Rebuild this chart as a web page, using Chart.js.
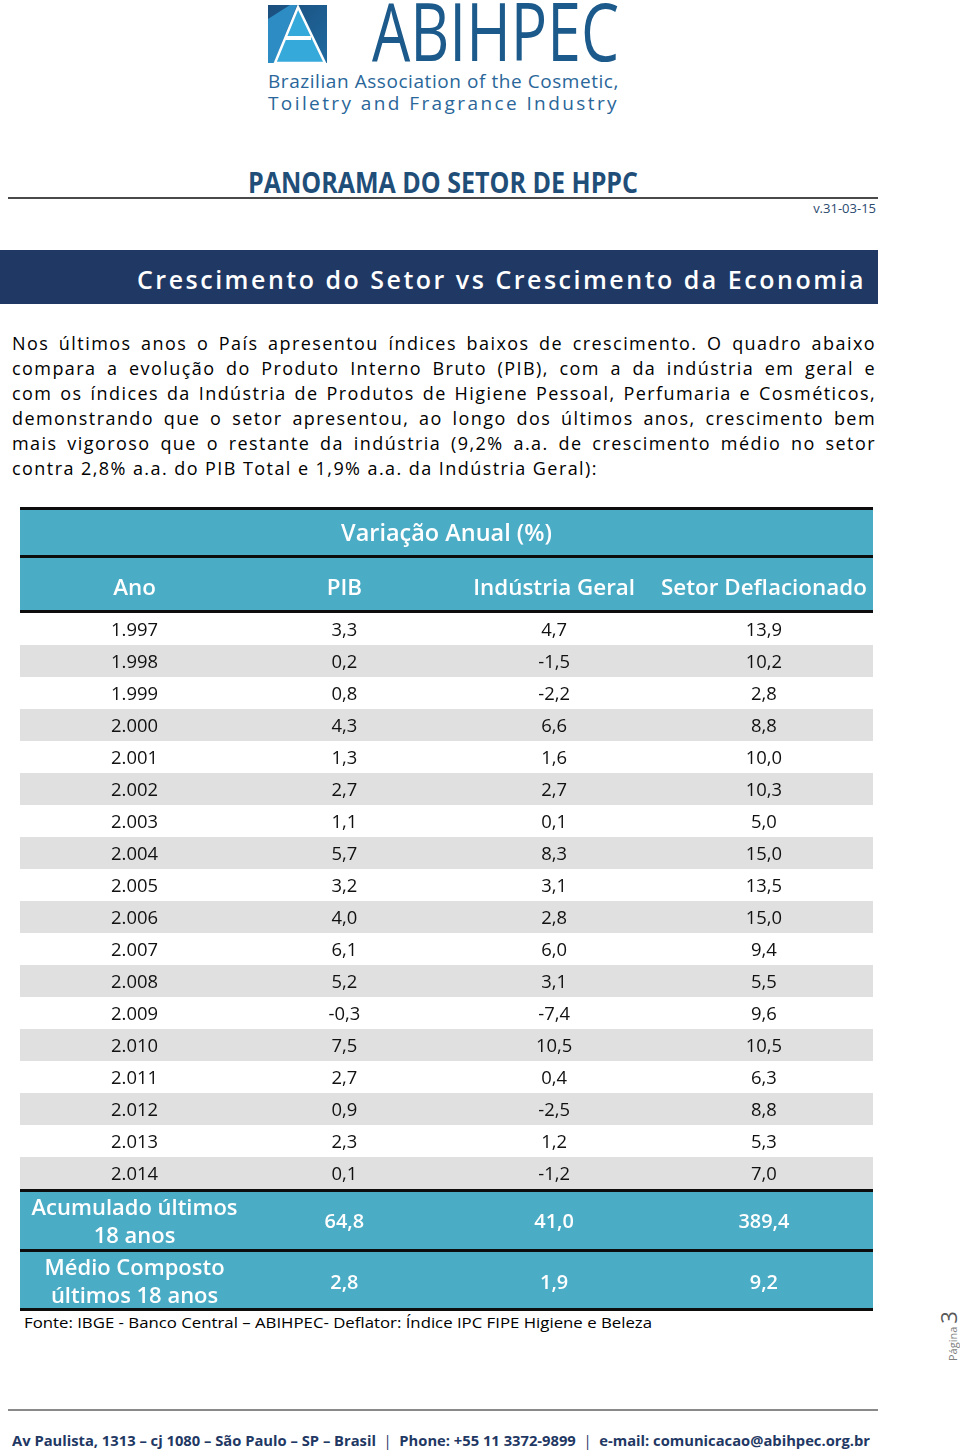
<!DOCTYPE html>
<html lang="pt-BR">
<head>
<meta charset="utf-8">
<title>Crescimento do Setor vs Crescimento da Economia</title>
<script src="https://cdn.jsdelivr.net/npm/chart.js@4.4.1/dist/chart.umd.min.js"></script>
<style>
  html,body{margin:0;padding:0;background:#fff;}
  body{width:960px;height:1450px;position:relative;overflow:hidden;font-family:"Open Sans",sans-serif;color:#000;}
  .abs{position:absolute;white-space:nowrap;}
  .fit{display:inline-block;transform-origin:left center;}
  .para div{height:25px;line-height:25px;font-size:18px;text-align:justify;text-align-last:justify;width:864px;white-space:nowrap;}
  .para div.last{text-align-last:left;}
</style>
</head>
<body>
<!-- logo -->
<svg class="abs" style="left:268px;top:5px" width="59" height="58" viewBox="0 0 59 58">
  <defs>
    <linearGradient id="gd" x1="0" y1="0" x2="1" y2="1">
      <stop offset="0" stop-color="#1b4e7d"/><stop offset="1" stop-color="#1f6aa0"/>
    </linearGradient>
  </defs>
  <rect x="0" y="0" width="59" height="58" fill="url(#gd)"/>
  <polygon points="0,58 0,14 22,0 29,0 6,58" fill="#2d8cc4"/>
  <polygon points="7,58 30,2 57,58" fill="#36a9db" stroke="#fff" stroke-width="2.5"/>
  <rect x="17" y="31" width="26" height="4" fill="#fff"/>
</svg>
<div class="abs" style="left:372px;top:-10px;line-height:80px;font-size:80px;font-weight:400;color:#1b5a8b;letter-spacing:0"><span class="fit" data-fit="247" data-mode="sx">ABIHPEC</span></div>
<div class="abs" style="left:268px;top:69px;line-height:24px;font-size:19px;color:#2a6699"><span class="fit" data-fit="351" data-mode="ls">Brazilian Association of the Cosmetic,</span></div>
<div class="abs" style="left:268px;top:91px;line-height:24px;font-size:19px;color:#2a6699"><span class="fit" data-fit="351" data-mode="ls">Toiletry and Fragrance Industry</span></div>

<!-- header -->
<div class="abs" style="left:248px;top:166px;line-height:32px;font-size:28px;font-weight:700;color:#1f4e79"><span class="fit" data-fit="390" data-mode="sx">PANORAMA DO SETOR DE HPPC</span></div>
<div class="abs" style="left:8px;top:197px;width:870px;height:2px;background:#4a4a4a"></div>
<div class="abs" style="right:84px;top:200px;line-height:16px;font-size:13px;color:#2b4a6f">v.31-03-15</div>

<!-- banner -->
<div class="abs" style="left:0;top:250px;width:878px;height:54px;background:#1f3864"></div>
<div class="abs" style="left:137px;top:263px;line-height:32px;font-size:25px;font-weight:600;color:#fff"><span class="fit" data-fit="729" data-mode="ls">Crescimento do Setor vs Crescimento da Economia</span></div>

<!-- paragraph -->
<div class="abs para" id="para" style="left:12px;top:331px">
  <div>Nos últimos anos o País apresentou índices baixos de crescimento. O quadro abaixo</div>
  <div>compara a evolução do Produto Interno Bruto (PIB), com a da indústria em geral e</div>
  <div>com os índices da Indústria de Produtos de Higiene Pessoal, Perfumaria e Cosméticos,</div>
  <div>demonstrando que o setor apresentou, ao longo dos últimos anos, crescimento bem</div>
  <div>mais vigoroso que o restante da indústria (9,2% a.a. de crescimento médio no setor</div>
  <div class="last"><span id="lastline">contra 2,8% a.a. do PIB Total e 1,9% a.a. da Indústria Geral):</span></div>
</div>

<!-- table chart -->
<canvas id="tbl" width="853" height="804" style="position:absolute;left:20px;top:507px;width:853px;height:804px"></canvas>

<div class="abs" style="left:24px;top:1312px;line-height:20px;font-size:15px"><span class="fit" data-fit="628" data-mode="sx">Fonte: IBGE - Banco Central – ABIHPEC- Deflator: Índice IPC FIPE Higiene e Beleza</span></div>

<!-- page number -->
<div class="abs" style="left:935px;top:1361px;line-height:26px;transform:rotate(-90deg);transform-origin:0 0;color:#7f7f7f"><span style="font-size:11px">Página </span><span style="font-size:22px;color:#595959">3</span></div>

<!-- footer -->
<div class="abs" style="left:8px;top:1409px;width:870px;height:2px;background:#8a8a8a"></div>
<div class="abs" style="left:12px;top:1430px;line-height:20px;font-size:15px;font-weight:700;color:#1f3864"><span class="fit" data-fit="858" data-mode="sx">Av Paulista, 1313 – cj 1080 – São Paulo – SP – Brasil <span style="font-weight:400">&nbsp;|&nbsp;</span> Phone: +55 11 3372-9899 <span style="font-weight:400">&nbsp;|&nbsp;</span> e-mail: comunicacao@abihpec.org.br</span></div>

<script>
// ---------- data ----------
const groupTitle = 'Variação Anual (%)';
const columnLabels = ['Ano', 'PIB', 'Indústria Geral', 'Setor Deflacionado'];
const years = ['1.997','1.998','1.999','2.000','2.001','2.002','2.003','2.004','2.005',
               '2.006','2.007','2.008','2.009','2.010','2.011','2.012','2.013','2.014'];
const pib       = [3.3, 0.2, 0.8, 4.3, 1.3, 2.7, 1.1, 5.7, 3.2, 4.0, 6.1, 5.2, -0.3, 7.5, 2.7, 0.9, 2.3, 0.1];
const industria = [4.7, -1.5, -2.2, 6.6, 1.6, 2.7, 0.1, 8.3, 3.1, 2.8, 6.0, 3.1, -7.4, 10.5, 0.4, -2.5, 1.2, -1.2];
const setor     = [13.9, 10.2, 2.8, 8.8, 10.0, 10.3, 5.0, 15.0, 13.5, 15.0, 9.4, 5.5, 9.6, 10.5, 6.3, 8.8, 5.3, 7.0];
const summaryLabels = [['Acumulado últimos', '18 anos'], ['Médio Composto', 'últimos 18 anos']];
const acumulado = [64.8, 41.0, 389.4];
const medio     = [2.8, 1.9, 9.2];

// ---------- helpers ----------
const fmt = v => v.toFixed(1).replace('.', ',');
const TEAL = '#4bacc6', GREY = '#e0e0e0', BLACK = '#0d0d0d';
const FONT = '"Open Sans", sans-serif';
const DY = 2; // baseline nudge for canvas text

function fitSize(ctx, weight, text, target) {
  ctx.font = `${weight} 100px ${FONT}`;
  return 100 * target / ctx.measureText(text).width;
}

const seriesList = [
  { label: columnLabels[1], values: pib },
  { label: columnLabels[2], values: industria },
  { label: columnLabels[3], values: setor }
];
const summaryRows = [acumulado, medio];

const tablePlugin = {
  id: 'tablePlugin',
  beforeDatasetsDraw(chart) {
    const { ctx, chartArea: a, scales: { x, y } } = chart;
    const W = chart.width;
    ctx.save();
    const top = a.top;
    ctx.fillStyle = BLACK; ctx.fillRect(0, 0, W, 3);
    ctx.fillStyle = TEAL;  ctx.fillRect(0, 3, W, 45);
    ctx.fillStyle = BLACK; ctx.fillRect(0, 48, W, 3);
    ctx.fillStyle = TEAL;  ctx.fillRect(0, 51, W, top - 54);
    ctx.fillStyle = BLACK; ctx.fillRect(0, top - 3, W, 3);
    const rowH = Math.abs(y.getPixelForValue(1) - y.getPixelForValue(0));
    years.forEach((lab, i) => {
      if (i % 2 === 1) {
        const cy = y.getPixelForValue(i);
        ctx.fillStyle = GREY;
        ctx.fillRect(a.left, cy - rowH / 2, a.right - a.left, rowH);
      }
    });
    const b = a.bottom;
    ctx.fillStyle = BLACK; ctx.fillRect(0, b, W, 3);
    ctx.fillStyle = TEAL;  ctx.fillRect(0, b + 3, W, 57);
    ctx.fillStyle = BLACK; ctx.fillRect(0, b + 60, W, 3);
    ctx.fillStyle = TEAL;  ctx.fillRect(0, b + 63, W, 56);
    ctx.fillStyle = BLACK; ctx.fillRect(0, b + 119, W, 3);

    ctx.textAlign = 'center'; ctx.textBaseline = 'middle'; ctx.fillStyle = '#fff';
    const tSize = fitSize(ctx, 600, groupTitle, 211);
    ctx.font = `600 ${tSize}px ${FONT}`;
    ctx.fillText(groupTitle, (a.left + a.right) / 2, 25 + DY);
    const hSize = fitSize(ctx, 600, columnLabels[3], 206);
    ctx.font = `600 ${hSize}px ${FONT}`;
    columnLabels.forEach((lab, j) => ctx.fillText(lab, x.getPixelForValue(j), 80 + DY));

    const lSize = fitSize(ctx, 600, summaryLabels[0][0], 206);
    const vSize = fitSize(ctx, 600, fmt(acumulado[2]), 51);
    const rowCenters = [b + 31.5, b + 92];
    summaryRows.forEach((vals, r) => {
      const cy = rowCenters[r] + DY;
      ctx.font = `600 ${lSize}px ${FONT}`;
      ctx.fillText(summaryLabels[r][0], x.getPixelForValue(0), cy - 14);
      ctx.fillText(summaryLabels[r][1], x.getPixelForValue(0), cy + 14);
      ctx.font = `600 ${vSize}px ${FONT}`;
      vals.forEach((v, j) => ctx.fillText(fmt(v), x.getPixelForValue(j + 1), cy));
    });
    ctx.restore();
  },
  afterDatasetsDraw(chart) {
    const { ctx, scales: { x, y } } = chart;
    ctx.save();
    ctx.textAlign = 'center'; ctx.textBaseline = 'middle'; ctx.fillStyle = '#111';
    const dSize = fitSize(ctx, 400, years[0], 47);
    ctx.font = `400 ${dSize}px ${FONT}`;
    years.forEach((lab, i) => ctx.fillText(lab, x.getPixelForValue(0), y.getPixelForValue(i) + DY));
    chart.data.datasets.forEach((ds, d) => {
      const meta = chart.getDatasetMeta(d);
      meta.data.forEach((pt, i) => ctx.fillText(fmt(seriesList[d].values[i]), pt.x, pt.y + DY));
    });
    ctx.restore();
  }
};

new Chart(document.getElementById('tbl'), {
  type: 'scatter',
  data: {
    datasets: seriesList.map(s => ({
      label: s.label,
      data: s.values.map((v, i) => ({ x: columnLabels.indexOf(s.label), y: years[i], v })),
      pointRadius: 0,
      pointHoverRadius: 0
    }))
  },
  options: {
    responsive: false,
    animation: false,
    events: [],
    layout: { padding: { top: 106, bottom: 122, left: 0, right: 0 } },
    plugins: { legend: { display: false }, tooltip: { enabled: false }, title: { display: false } },
    scales: {
      x: { type: 'linear', min: -0.546, max: 3.52, display: false },
      y: { type: 'category', labels: years, offset: true, display: false }
    }
  },
  plugins: [tablePlugin]
});

// ---------- fit decorative text widths ----------
document.fonts.ready.then(() => {
  document.querySelectorAll('.fit').forEach(el => {
    const target = +el.dataset.fit;
    const w = el.getBoundingClientRect().width;
    if (el.dataset.mode === 'ls') {
      const n = el.textContent.length;
      el.style.letterSpacing = ((target - w) / n) + 'px';
    } else {
      el.style.transform = `scaleX(${target / w})`;
    }
  });
  // paragraph: widen letters so the last (unjustified) line ends where the reference does
  const last = document.getElementById('lastline');
  const lw = last.getBoundingClientRect().width;
  const ls = (586 - lw) / last.textContent.length;
  document.getElementById('para').style.letterSpacing = ls + 'px';
});
</script>
</body>
</html>
